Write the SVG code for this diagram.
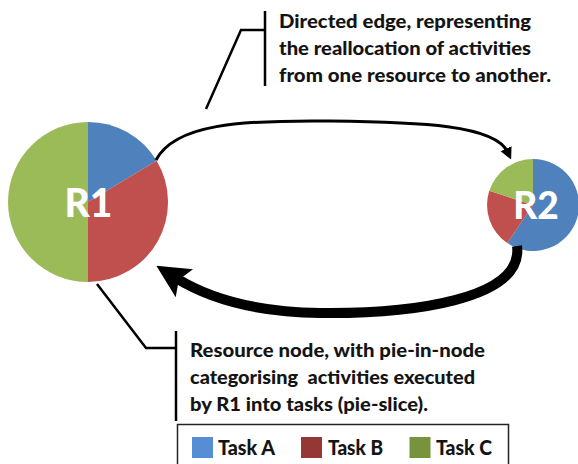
<svg xmlns="http://www.w3.org/2000/svg" width="578" height="464" viewBox="0 0 578 464">
  <style>
    .label { font-family: Lato, "Liberation Sans", sans-serif; font-weight: 900; font-size: 19.5px; fill: #141414; }
    .legend-text { font-family: Lato, "Liberation Sans", sans-serif; font-weight: 900; font-size: 21px; fill: #141414; }
    .node-text { font-family: Lato, "Liberation Sans", sans-serif; font-weight: 900; fill: #ffffff; text-anchor: middle; }
    .leader { fill: none; stroke: #000; stroke-width: 2.5; stroke-linejoin: miter; }
    .edge { fill: none; stroke: #000; stroke-linecap: butt; }
    .slice-a { fill: #4F81BD; }
    .slice-b { fill: #C0504D; }
    .slice-c { fill: #9BBB59; }
  </style>
  <defs>
    <marker id="head-thin" markerUnits="userSpaceOnUse" viewBox="0 0 10 10" refX="3" refY="5" markerWidth="12" markerHeight="13" orient="auto">
      <path d="M0,0 L10,5 L0,10 z" fill="#000"/>
    </marker>
    <marker id="head-thick" markerUnits="userSpaceOnUse" viewBox="0 0 10 10" refX="3" refY="5" markerWidth="33" markerHeight="34" orient="auto">
      <path d="M0,0 L10,5 L0,10 L2,5 z" fill="#000"/>
    </marker>
  </defs>

  <!-- Resource node R1: pie with three task slices -->
  <g id="node-r1">
    <path class="slice-c" d="M88,202 L88,282 A80,80 0 0 1 88,122 Z"/>
    <path class="slice-a" d="M88,202 L88,122 A80,80 0 0 1 156.6,160.8 Z"/>
    <path class="slice-b" d="M88,202 L156.6,160.8 A80,80 0 0 1 88,282 Z"/>
    <text class="node-text" x="88.5" y="217" font-size="39">R1</text>
  </g>

  <!-- Resource node R2: pie with three task slices -->
  <g id="node-r2">
    <path class="slice-a" d="M533,205 L533,159 A46,46 0 1 1 507.3,243.1 Z"/>
    <path class="slice-b" d="M533,205 L507.3,243.1 A46,46 0 0 1 489.3,190.8 Z"/>
    <path class="slice-c" d="M533,205 L489.3,190.8 A46,46 0 0 1 533,159 Z"/>
    <text class="node-text" x="536" y="218.5" font-size="37">R2</text>
  </g>

  <!-- Directed edges between the resources -->
  <g id="connectors">
    <path class="edge" stroke-width="3" d="M156,160 C175,124 240,120 330,121 C420,122 495,125 507.6,152" marker-end="url(#head-thin)"/>
    <path class="edge" stroke-width="10" d="M517,246 C524,300 410,314 320,313 C250,312 205,296 176,278" marker-end="url(#head-thick)"/>
  </g>

  <!-- Callout for the directed edge -->
  <g id="callout-edge">
    <polyline class="leader" points="206,109 241,30 265,30"/>
    <line class="leader" x1="265" y1="11" x2="265" y2="86"/>
    <text class="label" x="279" y="28" textLength="252" lengthAdjust="spacingAndGlyphs">Directed edge, representing</text>
    <text class="label" x="279" y="55" textLength="252" lengthAdjust="spacingAndGlyphs">the reallocation of activities</text>
    <text class="label" x="279" y="82" textLength="272" lengthAdjust="spacingAndGlyphs">from one resource to another.</text>
  </g>

  <!-- Callout for the resource node -->
  <g id="callout-node">
    <polyline class="leader" points="97,284 146,348 176,348"/>
    <line class="leader" x1="176" y1="331" x2="176" y2="421"/>
    <text class="label" x="190" y="357" textLength="295" lengthAdjust="spacingAndGlyphs">Resource node, with pie-in-node</text>
    <text class="label" x="190" y="384" textLength="285" lengthAdjust="spacingAndGlyphs" xml:space="preserve">categorising  activities executed</text>
    <text class="label" x="190" y="411" textLength="238" lengthAdjust="spacingAndGlyphs">by R1 into tasks (pie-slice).</text>
  </g>

  <!-- Legend of task colours -->
  <g id="legend">
    <rect x="177.5" y="424.5" width="331" height="50" fill="#fff" stroke="#222" stroke-width="1.5"/>
    <rect x="192" y="437" width="21" height="21" fill="#558ED5"/>
    <text class="legend-text" x="218" y="455" textLength="57" lengthAdjust="spacingAndGlyphs">Task A</text>
    <rect x="301" y="437" width="21" height="21" fill="#953735"/>
    <text class="legend-text" x="328" y="455" textLength="55" lengthAdjust="spacingAndGlyphs">Task B</text>
    <rect x="409.5" y="437" width="21" height="21" fill="#77933C"/>
    <text class="legend-text" x="436" y="455" textLength="56" lengthAdjust="spacingAndGlyphs">Task C</text>
  </g>
</svg>
